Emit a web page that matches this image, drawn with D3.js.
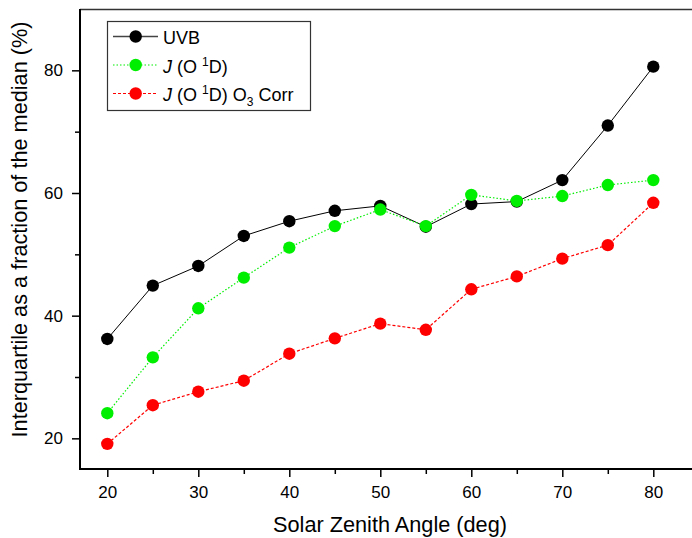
<!DOCTYPE html>
<html><head><meta charset="utf-8">
<script src="https://cdn.jsdelivr.net/npm/d3@7"></script>
<style>
html,body{margin:0;padding:0;background:#fff;}
svg{display:block;font-family:"Liberation Sans",Arial,sans-serif;}
</style></head>
<body>
<svg id="chart" width="692" height="538"></svg>
<script>
const angles = [20,25,30,35,40,45,50,55,60,65,70,75,80];
const uvb   = [36.2,44.9,48.1,53.0,55.4,57.1,57.9,54.5,58.2,58.6,62.1,71.0,80.6];
const jo1d  = [24.1,33.2,41.2,46.2,51.1,54.6,57.3,54.6,59.7,58.7,59.5,61.3,62.1];
const jo1dCorr = [19.1,25.4,27.6,29.4,33.8,36.3,38.7,37.7,44.3,46.4,49.3,51.5,58.4];
const xMajorTicks = [20,30,40,50,60,70,80];
const xMinorTicks = [25,35,45,55,65,75,85];
const yMajorTicks = [20,40,60,80];
const yMinorTicks = [30,50,70];
const xTitle = "Solar Zenith Angle (deg)";
const yTitle = "Interquartile as a fraction of the median (%)";

const svg = d3.select("#chart");
const x = d3.scaleLinear().domain([17, 86]).range([80, 80 + 69*9.1]);
const y = d3.scaleLinear().domain([15, 90]).range([469, 9]);

// top frame
svg.append("line").attr("x1",80).attr("x2",700).attr("y1",9.5).attr("y2",9.5)
  .attr("stroke","#333").attr("stroke-width",1.5);

// minor ticks
const gxm = svg.append("g").attr("transform","translate(0,469)")
  .call(d3.axisBottom(x).tickValues(xMinorTicks).tickSize(5).tickFormat(""));
const gym = svg.append("g").attr("transform","translate(80,0)")
  .call(d3.axisLeft(y).tickValues(yMinorTicks).tickSize(5).tickFormat(""));
[gxm,gym].forEach(g=>{g.select(".domain").remove(); g.selectAll("line").attr("stroke","#000").attr("stroke-width",1.5);});

// major
const gx = svg.append("g").attr("transform","translate(0,469)")
  .call(d3.axisBottom(x).tickValues(xMajorTicks).tickSize(8).tickPadding(9).tickFormat(d3.format("d")));
const gy = svg.append("g").attr("transform","translate(80,0)")
  .call(d3.axisLeft(y).tickValues(yMajorTicks).tickSize(8).tickPadding(9).tickFormat(d3.format("d")));
[gx,gy].forEach(g=>{
  g.select(".domain").remove();
  g.selectAll("line").attr("stroke","#000").attr("stroke-width",1.5);
  g.selectAll("text").attr("font-size",17).attr("fill","#000").attr("font-family","Liberation Sans, Arial, sans-serif");
});
// axis lines
svg.append("line").attr("x1",80).attr("x2",700).attr("y1",469).attr("y2",469).attr("stroke","#000").attr("stroke-width",2);
svg.append("line").attr("x1",80).attr("x2",80).attr("y1",9).attr("y2",470).attr("stroke","#000").attr("stroke-width",2);

// titles
svg.append("text").attr("x",390).attr("y",532).attr("text-anchor","middle")
  .attr("font-size",21.7).attr("fill","#000").text(xTitle);
svg.append("text").attr("transform","translate(27,229.5) rotate(-90)").attr("text-anchor","middle")
  .attr("font-size",21.7).attr("fill","#000").text(yTitle);

const series = [
  {name:"UVB", vals:uvb, color:"#000", dash:null, lw:1},
  {name:"J", vals:jo1d, color:"#00ee00", dash:"1.5,2", lw:1.2},
  {name:"Jc", vals:jo1dCorr, color:"#ff0000", dash:"3,2", lw:1.2}
];
const line = d3.line().x((d,i)=>x(angles[i])).y(d=>y(d));
series.forEach(s=>{
  svg.append("path").datum(s.vals).attr("d",line).attr("fill","none")
    .attr("stroke",s.color).attr("stroke-width",s.lw).attr("stroke-dasharray",s.dash);
  svg.append("g").selectAll("circle").data(s.vals).join("circle")
    .attr("cx",(d,i)=>x(angles[i])).attr("cy",d=>y(d)).attr("r",6.2).attr("fill",s.color);
});

// legend
const lg = svg.append("g");
lg.append("rect").attr("x",107.5).attr("y",21.5).attr("width",203).attr("height",89)
  .attr("fill","#fff").attr("stroke","#333").attr("stroke-width",1.2);
const ly = [36.5,65,93.5];
series.forEach((s,i)=>{
  lg.append("line").attr("x1",113).attr("x2",158).attr("y1",ly[i]).attr("y2",ly[i])
    .attr("stroke",s.color==="#000"?"#444":s.color).attr("stroke-width",s.color==="#000"?1.5:1.2).attr("stroke-dasharray",s.dash);
  lg.append("circle").attr("cx",135.7).attr("cy",ly[i]).attr("r",6.2).attr("fill",s.color);
});
const fs = 18;
lg.append("text").attr("x",163).attr("y",ly[0]+7.8).attr("font-size",fs).attr("fill","#000").text("UVB");
function jLabel(t){
  t.append("tspan").attr("font-style","italic").text("J");
  t.append("tspan").text(" (O ");
  t.append("tspan").attr("font-size",12).attr("dy",-7).text("1");
  t.append("tspan").attr("dy",7).text("D)");
}
const t2 = lg.append("text").attr("x",163).attr("y",ly[1]+7.8).attr("font-size",fs).attr("fill","#000");
jLabel(t2);
const t3 = lg.append("text").attr("x",163).attr("y",ly[2]+7.8).attr("font-size",fs).attr("fill","#000");
jLabel(t3);
t3.append("tspan").text(" O");
t3.append("tspan").attr("font-size",12).attr("dy",5).text("3");
t3.append("tspan").attr("dy",-5).text(" Corr");
</script>
</body></html>
